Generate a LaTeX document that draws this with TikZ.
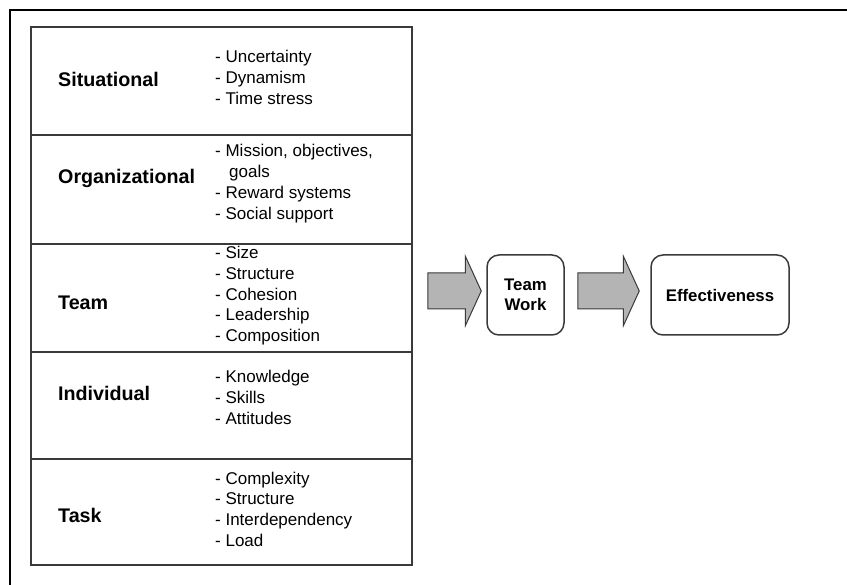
\documentclass[tikz,border=0pt]{standalone}
\usepackage{fontspec}
\setmainfont{Liberation Sans}
\usepackage{tikz}
\usetikzlibrary{calc}
\definecolor{tline}{HTML}{3A3A3A}
\definecolor{afill}{HTML}{B4B4B4}

\begin{document}
\begin{tikzpicture}[x=1pt, y=-1pt,
  rowbox/.style={draw=tline, line width=1.5pt, minimum width=381pt, inner sep=0pt},
  lab/.style={font=\bfseries\fontsize{19.7}{23}\selectfont, inner sep=0pt, anchor=base west},
  items/.style={font=\fontsize{17}{20.8}\selectfont, align=left, inner sep=0pt, anchor=north west},
  outbox/.style={draw=tline, line width=1.5pt, rounded corners=12pt, minimum height=80pt,
    font=\bfseries\fontsize{16.8}{20}\selectfont, align=center, inner sep=0pt},
  blockarrow/.style={draw=tline, line width=1pt, fill=afill}]
\useasboundingbox (0,0) rectangle (847,585);
\draw[line width=2pt] (847,10)--(10,10)--(10,585);
\foreach \nm/\t/\b in {sit/27/135, org/135/244, team/244/352, ind/352/459, task/459/565}
  \node[rowbox, minimum height={(\b-\t)*1pt}] (\nm) at (221.5,{(\t+\b)/2}) {};
\node[lab] (sit-lab) at (58,87) {Situational};
\node[lab] (org-lab) at (58,184) {Organizational};
\node[lab] (team-lab) at (58,310) {Team};
\node[lab] (ind-lab) at (58,401) {Individual};
\node[lab] (task-lab) at (58,522.7) {Task};
\node[items] (sit-it) at (215,50) {- Uncertainty\\- Dynamism\\- Time stress};
\node[items] (org-it) at (215,144.3) {- Mission, objectives,\\\hspace*{14pt}goals\\- Reward systems\\- Social support};
\node[items] (team-it) at (215,246) {- Size\\- Structure\\- Cohesion\\- Leadership\\- Composition};
\node[items] (ind-it) at (215,370) {- Knowledge\\- Skills\\- Attitudes};
\node[items] (task-it) at (215,471.6) {- Complexity\\- Structure\\- Interdependency\\- Load};
\node[outbox, minimum width=77pt] (work) at (525.5,295) {Team\\Work};
\node[outbox, minimum width=138pt] (eff) at (720,295) {Effectiveness};
\coordinate (a1s) at ($(sit.east |- work.west)+(15,-4)$);
\coordinate (a1e) at ($(work.west)+(-5,-4)$);
\coordinate (a2s) at ($(work.east)+(13,-4)$);
\coordinate (a2e) at ($(eff.west)+(-11,-4)$);
\foreach \s/\e in {a1s/a1e, a2s/a2e}
  \draw[blockarrow] ($(\s)+(0,-18)$) -- ($(\e)+(-16,-18)$) -- ($(\e)+(-16,-35)$) -- (\e)
    -- ($(\e)+(-16,35)$) -- ($(\e)+(-16,18)$) -- ($(\s)+(0,18)$) -- cycle;
\end{tikzpicture}
\end{document}
